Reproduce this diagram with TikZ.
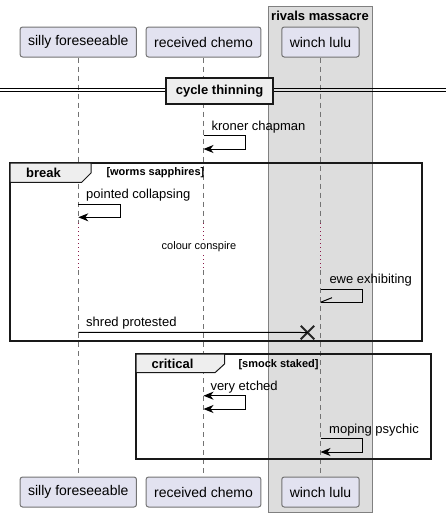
\documentclass[tikz,border=0pt]{standalone}
\usepackage{fontspec}
\setmainfont{Liberation Sans}
\usetikzlibrary{arrows.meta,shapes.misc}
\definecolor{partfill}{HTML}{E2E2F0}
\definecolor{boxfill}{HTML}{DDDDDD}
\definecolor{tabfill}{HTML}{EEEEEE}
\definecolor{delayred}{HTML}{8B1A4A}
\tikzstyle{part}=[shape=rectangle,
                  rounded corners=2.5pt,
                  draw=black!55,
                  fill=partfill,
                  minimum height=30pt,
                  inner xsep=8pt,
                  font=\fontsize{14}{16}\selectfont]
\tikzstyle{msg}=[anchor=base west,
                 inner sep=0pt,
                 font=\fontsize{13}{15}\selectfont]
\tikzstyle{lifeline}=[draw=black!55,
                      dash pattern=on 5pt off 4pt]
\tikzstyle{delay}=[draw=delayred,
                   dash pattern=on 1pt off 3pt]
\tikzstyle{frame}=[draw=black!90,
                   line width=1.5pt]
\tikzstyle{tab}=[draw=black!90,
                 fill=tabfill,
                 line width=1pt]
\tikzstyle{cond}=[inner sep=0pt,
                  font=\bfseries\fontsize{11}{13}\selectfont]
\tikzstyle{label}=[inner sep=0pt,
                   font=\bfseries\fontsize{13}{15}\selectfont]

\begin{document}
\begin{tikzpicture}[x=1pt,y=-1pt,>={Stealth[length=10pt,width=8pt,inset=3pt]},line width=1pt]
\useasboundingbox (0,0) rectangle (446,517);

% box around winch lulu
\node[draw=black!50, fill=boxfill, minimum width=104pt, minimum height=506pt,
      anchor=north west, inner sep=0pt] (rm) at (268,6) {};
\node[label] (rmt) at (320,15.5) {rivals massacre};

% participants
\node[part] (sf) at (78.3,42)  {silly foreseeable};
\node[part] (rc) at (203.5,42) {received chemo};
\node[part] (wl) at (320.5,42) {winch lulu};
\node[part] (sfb) at (78.3,492)  {silly foreseeable};
\node[part] (rcb) at (203.5,492) {received chemo};
\node[part] (wlb) at (320.5,492) {winch lulu};

% lifelines with delay
\coordinate (sfd1) at (78.3,223);
\coordinate (sfd2) at (78.3,270);
\coordinate (rcd1) at (203.5,223);
\coordinate (rcd2) at (203.5,270);
\coordinate (wld1) at (320.5,223);
\coordinate (wld2) at (320.5,270);
\draw[lifeline] (sf) -- (sfd1);
\draw[lifeline] (rc) -- (rcd1);
\draw[lifeline] (wl) -- (wld1);
\draw[delay] (sfd1) -- (sfd2);
\draw[delay] (rcd1) -- (rcd2);
\draw[delay] (wld1) -- (wld2);
\draw[lifeline] (sfd2) -- (sfb);
\draw[lifeline] (rcd2) -- (rcb);
\draw[lifeline] (wld2) -- (wlb);
\node[inner sep=0pt, fill=white, font=\fontsize{11}{13}\selectfont] (cc) at (199,247) {colour conspire};

% divider
\draw (0,88.3) -- (446,88.3);
\draw (0,91.7) -- (446,91.7);
\node[draw=black!90, line width=2pt, fill=tabfill, minimum width=107pt,
      minimum height=25.5pt, font=\bfseries\fontsize{13}{15}\selectfont] (ct) at (219.5,91.2) {cycle thinning};

% kroner chapman
\coordinate (k1) at (203.5,135.7);
\coordinate (k2) at (203.5,149);
\draw[->] (k1) -- (245.7,135.7) -- (245.7,149) -- (k2);
\node[msg] (kt) at (211,130.2) {kroner chapman};

% break frame
\draw[frame] (10,163) rectangle (422,341);
\draw[tab] (10,163) -- (91,163) -- (91,173) -- (81.7,182.3) -- (10,182.3) -- cycle;
\node[label] (bl) at (43.5,173) {break};
\node[cond, anchor=west] (bc) at (106,173) {[worms sapphires]};

% pointed collapsing
\coordinate (p1) at (78.3,204.3);
\coordinate (p2) at (78.3,217.3);
\draw[->] (p1) -- (120.3,204.3) -- (120.3,217.3) -- (p2);
\node[msg] (pt) at (85.7,198.8) {pointed collapsing};

% ewe exhibiting
\coordinate (e1) at (320.5,289.3);
\coordinate (e2) at (320.5,302.3);
\draw (e1) -- (362.3,289.3) -- (362.3,302.3) -- (e2);
\draw (e2) -- ++(11.5,-4.6);
\node[msg] (et) at (329,283.8) {ewe exhibiting};

% shred protested
\coordinate (s1) at (78.3,332.3);
\node[cross out, draw=black!85, line width=2pt, minimum size=11.5pt, inner sep=0pt] (x1) at (307.5,332.5) {};
\draw (s1) -- (x1.center);
\node[msg] (st) at (85.7,326.8) {shred protested};

% critical frame
\draw[frame] (136,354) rectangle (431,459);
\draw[tab] (136,354) -- (224.5,354) -- (224.5,364) -- (215,372.7) -- (136,372.7) -- cycle;
\node[label] (crl) at (172.5,364) {critical};
\node[cond, anchor=west] (crc) at (238,365) {[smock staked]};

% very etched
\coordinate (v1) at (203.5,395.7);
\coordinate (v2) at (203.5,409);
\draw[<->] (v1) -- (245.3,395.7) -- (245.3,409) -- (v2);
\node[msg] (vt) at (210,390.2) {very etched};

% moping psychic
\coordinate (m1) at (320.5,438.7);
\coordinate (m2) at (320.5,452);
\draw[->] (m1) -- (362.7,438.7) -- (362.7,452) -- (m2);
\node[msg] (mt) at (328.7,433.2) {moping psychic};

\end{tikzpicture}
\end{document}
